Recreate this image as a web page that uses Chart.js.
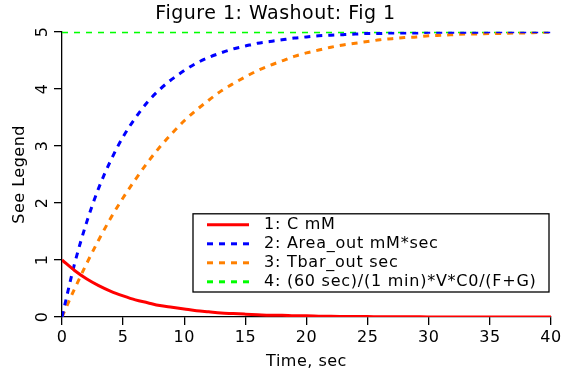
<!DOCTYPE html>
<html>
<head>
<meta charset="utf-8">
<script src="https://cdn.jsdelivr.net/npm/chart.js@4/dist/chart.umd.min.js"></script>
<style>
  html, body { margin: 0; padding: 0; background: #fff; }
  #wrap { width: 569px; height: 373px; }
</style>
</head>
<body>
<div id="wrap"><canvas id="washoutChart" width="569" height="373"></canvas></div>
<script>
// 時間軸 (sec)
const times = [0, 1, 2, 3, 4, 5, 6, 7, 8, 9, 10, 11, 12, 13, 14, 15, 16, 17, 18, 19, 20,
               21, 22, 23, 24, 25, 26, 27, 28, 29, 30, 31, 32, 33, 34, 35, 36, 37, 38, 39, 40];

// 1: C mM
const cValues = [1.00, 0.82, 0.67, 0.55, 0.45, 0.37, 0.30, 0.25, 0.20, 0.17, 0.14,
                 0.11, 0.09, 0.07, 0.06, 0.05, 0.04, 0.03, 0.03, 0.02, 0.02,
                 0.015, 0.012, 0.010, 0.008, 0.007, 0.006, 0.005, 0.004, 0.003, 0.002,
                 0.002, 0.002, 0.001, 0.001, 0.001, 0.001, 0.001, 0.0, 0.0, 0.0];

// 2: Area_out mM*sec
const areaValues = [0.00, 0.91, 1.65, 2.26, 2.75, 3.16, 3.49, 3.77, 3.99, 4.17, 4.32,
                    4.45, 4.55, 4.63, 4.70, 4.75, 4.80, 4.83, 4.86, 4.89, 4.91,
                    4.93, 4.94, 4.95, 4.96, 4.97, 4.97, 4.98, 4.98, 4.98, 4.99,
                    4.99, 4.99, 4.99, 4.99, 5.00, 5.00, 5.00, 5.00, 5.00, 5.00];

// 3: Tbar_out sec
const tbarValues = [0.00, 0.48, 0.93, 1.35, 1.74, 2.09, 2.41, 2.71, 2.98, 3.22, 3.44,
                    3.63, 3.80, 3.96, 4.09, 4.21, 4.32, 4.41, 4.49, 4.57, 4.63,
                    4.68, 4.73, 4.77, 4.80, 4.83, 4.86, 4.88, 4.90, 4.91, 4.93,
                    4.94, 4.95, 4.96, 4.96, 4.97, 4.97, 4.98, 4.98, 4.99, 4.99];

// 4: (60 sec)/(1 min)*V*C0/(F+G)
const steadyTimes = [0, 40];
const steadyValues = [5, 5];

const seriesLabels = ['1: C mM', '2: Area_out mM*sec', '3: Tbar_out sec', '4: (60 sec)/(1 min)*V*C0/(F+G)'];
const xTicks = [0, 5, 10, 15, 20, 25, 30, 35, 40];
const yTicks = [0, 1, 2, 3, 4, 5];

const FONT = 'DejaVu Sans';

function toPoints(xs, ys) {
    return xs.map((x, i) => ({ x: x, y: ys[i] }));
}

// 字距稍寬，較接近原圖
const wideText = {
    id: 'wideText',
    beforeUpdate(chart) { chart.ctx.letterSpacing = '0.5px'; },
    beforeDraw(chart) { chart.ctx.letterSpacing = '0.5px'; }
};

// 圖內圖例
const innerLegend = {
    id: 'innerLegend',
    afterDatasetsDraw(chart) {
        const ctx = chart.ctx;
        const area = chart.chartArea;
        const boxRight = area.right - 2;
        const boxLeft = area.left + 131;
        const boxTop = area.top + 182;
        const boxBottom = area.bottom - 25;
        ctx.save();
        ctx.fillStyle = '#fff';
        ctx.fillRect(boxLeft, boxTop, boxRight - boxLeft, boxBottom - boxTop);
        ctx.strokeStyle = '#000';
        ctx.lineWidth = 1.3;
        ctx.strokeRect(boxLeft, boxTop, boxRight - boxLeft, boxBottom - boxTop);
        ctx.font = '16px "' + FONT + '"';
        ctx.letterSpacing = '0.75px';
        ctx.textBaseline = 'middle';
        ctx.textAlign = 'left';
        chart.data.datasets.forEach((ds, i) => {
            const y = boxTop + 11 + i * 19;
            ctx.beginPath();
            ctx.setLineDash(ds.borderDash || []);
            ctx.strokeStyle = ds.borderColor;
            ctx.lineWidth = 3;
            ctx.moveTo(boxLeft + 14, y);
            ctx.lineTo(boxLeft + 56, y);
            ctx.stroke();
            ctx.setLineDash([]);
            ctx.fillStyle = '#000';
            ctx.fillText(ds.label, boxLeft + 71, y);
        });
        ctx.restore();
    }
};

const ctx = document.getElementById('washoutChart').getContext('2d');
const washoutChart = new Chart(ctx, {
    type: 'line',
    data: {
        datasets: [
            {
                label: seriesLabels[0],
                data: toPoints(times, cValues),
                borderColor: '#ff0000',
                borderWidth: 3,
                pointRadius: 0,
                cubicInterpolationMode: 'monotone',
                fill: false
            },
            {
                label: seriesLabels[1],
                data: toPoints(times, areaValues),
                borderColor: '#0000ff',
                borderWidth: 3,
                borderDash: [6, 6],
                pointRadius: 0,
                cubicInterpolationMode: 'monotone',
                fill: false
            },
            {
                label: seriesLabels[2],
                data: toPoints(times, tbarValues),
                borderColor: '#ff8000',
                borderWidth: 3,
                borderDash: [6, 6],
                pointRadius: 0,
                cubicInterpolationMode: 'monotone',
                fill: false
            },
            {
                label: seriesLabels[3],
                data: toPoints(steadyTimes, steadyValues),
                borderColor: '#00ff00',
                borderWidth: 3,
                borderDash: [6, 6],
                pointRadius: 0,
                fill: false
            }
        ]
    },
    options: {
        responsive: false,
        animation: false,
        layout: { padding: { left: 0, right: 18, top: 0, bottom: 0 } },
        plugins: {
            legend: { display: false },
            tooltip: { enabled: false },
            title: {
                display: true,
                text: 'Figure 1: Washout: Fig 1',
                color: '#000',
                font: { family: FONT, size: 19, weight: 'normal' },
                padding: { top: 3, bottom: 6 }
            }
        },
        scales: {
            x: {
                type: 'linear',
                min: 0,
                max: 40,
                afterBuildTicks: (scale) => { scale.ticks = xTicks.map(v => ({ value: v })); },
                afterFit: (scale) => { scale.height = 56; },
                border: { display: true, color: '#000', width: 1.3 },
                grid: { display: true, drawOnChartArea: false, drawTicks: true, tickLength: 8, color: '#000', lineWidth: 1.3 },
                ticks: { color: '#000', font: { family: FONT, size: 16 }, padding: 3, maxRotation: 0 },
                title: {
                    display: true,
                    text: 'Time, sec',
                    color: '#000',
                    font: { family: FONT, size: 16 },
                    padding: { top: 0, bottom: 2 }
                }
            },
            y: {
                type: 'linear',
                min: 0,
                max: 5,
                afterBuildTicks: (scale) => { scale.ticks = yTicks.map(v => ({ value: v })); },
                afterFit: (scale) => { scale.width = 62; },
                border: { display: true, color: '#000', width: 1.3 },
                grid: { display: true, drawOnChartArea: false, drawTicks: true, tickLength: 8, color: '#000', lineWidth: 1.3 },
                ticks: {
                    color: '#000',
                    font: { family: FONT, size: 16 },
                    padding: 6,
                    minRotation: 90,
                    maxRotation: 90,
                    crossAlign: 'center'
                },
                title: {
                    display: true,
                    text: 'See Legend',
                    color: '#000',
                    font: { family: FONT, size: 16 },
                    padding: { top: 10, bottom: 4 }
                }
            }
        }
    },
    plugins: [wideText, innerLegend]
});
</script>
</body>
</html>
